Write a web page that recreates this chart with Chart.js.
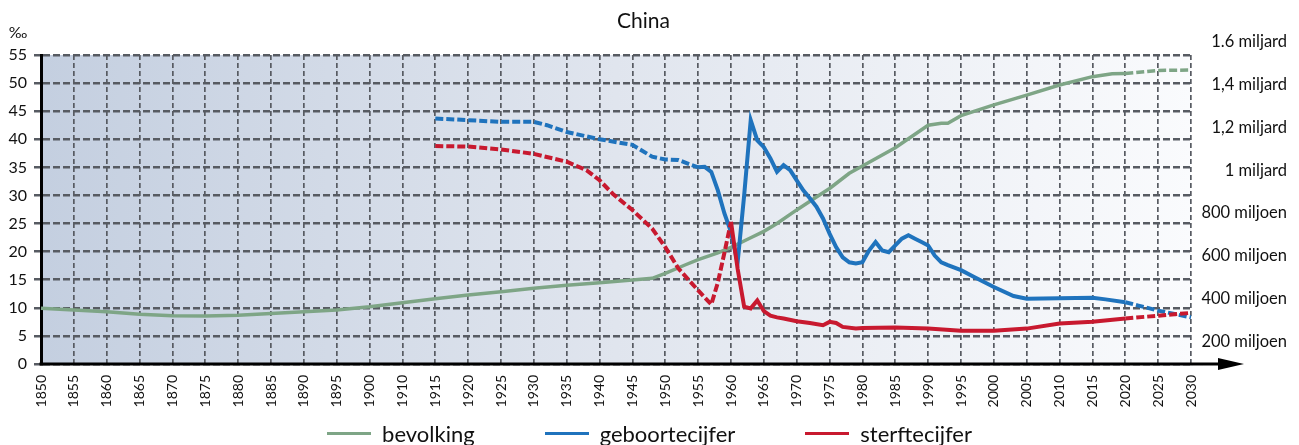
<html lang="nl">
<head>
<meta charset="UTF-8">
<script src="https://cdn.jsdelivr.net/npm/chart.js"></script>
<title>China</title>
<style>
  body { margin: 0; background: #fff; font-family: Lato, sans-serif; }
  #wrap { position: relative; width: 1299px; height: 445px; }
  #legend { position: absolute; left: 0; top: 420px; width: 1299px; height: 26px;
            display: flex; justify-content: center; gap: 70px; font-size: 22px; color: #111; }
  #legend div { display: flex; align-items: center; }
  #legend span.sw { display: inline-block; width: 44px; height: 3px; margin-right: 11px; }
</style>
</head>
<body>
<div id="wrap">
  <canvas id="myChart"></canvas>
  <div id="legend"></div>
</div>
<script>
// x categories: yearly, but 1900-1910 squeezed into one 5-step interval (as in the source)
const categories = [];
for (let y = 1850; y <= 1900; y++) categories.push(y);
for (let y = 1902; y < 1910; y += 2) categories.push(y);
for (let y = 1910; y <= 2030; y++) categories.push(y);

const tickYears = [1850,1855,1860,1865,1870,1875,1880,1885,1890,1895,1900,1910,1915,1920,1925,1930,1935,
  1940,1945,1950,1955,1960,1965,1970,1975,1980,1985,1990,1995,2000,2005,2010,2015,2020,2025,2030];

const popTickValues = [200,400,600,800,1000,1200,1400,1600];
const popTickLabels = ['200 miljoen','400 miljoen','600 miljoen','800 miljoen','1 miljard','1,2 miljard','1,4 miljard','1.6 miljard'];

// bevolking (miljoen)
const popYears = [1850,1855,1860,1865,1870,1875,1880,1885,1890,1895,1900,1910,1915,1920,1925,1930,1935,1940,
  1945,1948,1950,1953,1955,1958,1960,1963,1965,1967,1970,1973,1975,1978,1980,1985,1990,1992,1993,1995,
  2000,2005,2010,2015,2018,2020,2025,2030];
const popValues = [356,348,340,328,321,320,324,332,340,348,363,382,400,418,433,449,464,475,
  488,496,519,558,583,615,640,685,715,752,815,875,915,986,1020,1105,1210,1219,1219,1255,
  1305,1351,1398,1437,1450,1452,1466,1468];

// geboortecijfer (‰)
const birthYears = [1915,1920,1925,1930,1932,1935,1940,1945,1948,1950,1952,1955,1956,1957,1958,1959,1960,1961,
  1962,1963,1964,1965,1966,1967,1968,1969,1970,1971,1972,1973,1974,1975,1976,1977,1978,1979,1980,1981,
  1982,1983,1984,1985,1986,1987,1988,1989,1990,1991,1992,1993,1995,1997,2000,2003,2005,2010,2015,2017,
  2020,2022,2025,2030];
const birthValues = [43.7,43.4,43.1,43.1,42.5,41.3,40.0,39.0,36.9,36.4,36.3,35.0,35.1,34.2,30.9,26.8,23.5,18.0,
  30.0,43.4,39.8,38.6,36.6,34.2,35.4,34.5,32.7,30.9,29.5,28.0,25.9,23.2,20.8,19.0,18.1,17.9,18.1,20.2,
  21.7,20.2,19.9,21.1,22.3,22.9,22.3,21.7,21.1,19.3,18.1,17.6,16.7,15.5,13.7,12.1,11.6,11.7,11.8,11.5,
  11.0,10.4,9.5,8.3];

// sterftecijfer (‰)
const deathYears = [1915,1920,1925,1930,1935,1938,1940,1942,1945,1948,1950,1952,1955,1957,1958,1959,1960,1961,
  1962,1963,1964,1965,1966,1967,1968,1970,1972,1974,1975,1976,1977,1979,1980,1985,1990,1995,2000,2005,
  2010,2015,2020,2025,2030];
const deathValues = [38.8,38.7,38.2,37.4,36.0,34.5,32.7,30.3,27.4,24.1,20.8,17.0,13.1,10.6,14.5,19.8,25.3,17.0,
  10.2,9.9,11.3,9.4,8.6,8.3,8.1,7.6,7.3,6.9,7.5,7.3,6.6,6.3,6.4,6.5,6.3,5.9,5.9,6.3,
  7.2,7.5,8.1,8.6,9.1];

const gridColor = '#575b62';

function pts(years, values) {
  return years.map((y, i) => ({ x: y, y: values[i] }));
}
function dashed(until, from) {
  return ctx => {
    const a = categories[ctx.p0.parsed.x], b = categories[ctx.p1.parsed.x];
    if ((until && b <= until) || (from && a >= from)) return [8, 3];
    return undefined;
  };
}

const bgPlugin = {
  id: 'bg',
  beforeDraw(chart) {
    const { ctx, chartArea: a } = chart;
    const g = ctx.createLinearGradient(a.left, 0, a.right, 0);
    g.addColorStop(0, '#c4cfe0');
    g.addColorStop(0.5, '#e0e5ee');
    g.addColorStop(1, '#fafbfd');
    ctx.save();
    ctx.fillStyle = g;
    ctx.fillRect(a.left, a.top, a.right - a.left, a.bottom - a.top);
    ctx.restore();
  },
  afterDraw(chart) {
    const { ctx, chartArea: a } = chart;
    ctx.save();
    // x axis with arrow
    ctx.strokeStyle = '#000';
    ctx.lineWidth = 3;
    ctx.beginPath();
    ctx.moveTo(a.left - 1.5, a.bottom);
    ctx.lineTo(a.right + 30, a.bottom);
    ctx.stroke();
    ctx.fillStyle = '#000';
    ctx.beginPath();
    ctx.moveTo(a.right + 27, a.bottom - 6);
    ctx.lineTo(a.right + 53, a.bottom);
    ctx.lineTo(a.right + 27, a.bottom + 6);
    ctx.closePath();
    ctx.fill();
    // unit
    ctx.fillStyle = '#111';
    ctx.font = '16px Lato';
    ctx.textAlign = 'center';
    ctx.textBaseline = 'middle';
    ctx.fillText('‰', a.left - 23, a.top - 22);
    ctx.restore();
  }
};

Chart.defaults.font.family = 'Lato';
Chart.defaults.color = '#111';

const chart = new Chart(document.getElementById('myChart'), {
  type: 'line',
  data: {
    labels: categories,
    datasets: [
      { label: 'bevolking', data: pts(popYears, popValues), yAxisID: 'yPop', order: 2,
        borderColor: '#7ea586', backgroundColor: '#7ea586', borderWidth: 3.5,
        segment: { borderDash: dashed(null, 2020) } },
      { label: 'geboortecijfer', data: pts(birthYears, birthValues), yAxisID: 'y', order: 1,
        borderColor: '#1f73bd', backgroundColor: '#1f73bd', borderWidth: 4,
        segment: { borderDash: dashed(1955, 2020) } },
      { label: 'sterftecijfer', data: pts(deathYears, deathValues), yAxisID: 'y', order: 0,
        borderColor: '#c8192f', backgroundColor: '#c8192f', borderWidth: 4,
        segment: { borderDash: dashed(1960, 2020) } }
    ]
  },
  options: {
    responsive: true,
    maintainAspectRatio: false,
    animation: false,
    layout: { padding: { right: 12 } },
    elements: { point: { radius: 0 }, line: { tension: 0 } },
    plugins: {
      legend: { display: false },
      tooltip: { enabled: false },
      title: { display: true, text: 'China', font: { size: 21, weight: 'normal' }, color: '#111',
               padding: { top: 9, bottom: 20.8 } }
    },
    scales: {
      x: {
        type: 'category',
        offset: false,
        afterBuildTicks: s => { s.ticks = s.ticks.filter(t => tickYears.includes(categories[t.value])); },
        afterFit: s => { s.height = 81; },
        ticks: { autoSkip: false, maxRotation: 90, minRotation: 90, padding: 11, font: { size: 14 } },
        grid: { color: gridColor, lineWidth: 1.7, drawTicks: false },
        border: { display: false, dash: [5, 3] }
      },
      y: {
        position: 'left',
        min: 0, max: 55,
        afterFit: s => { s.width = 41; },
        ticks: { stepSize: 5, padding: 7, font: { size: 16 } },
        grid: { color: gridColor, lineWidth: 2.5, tickLength: 7, tickBorderDash: [7, 3] },
        border: { display: true, color: '#000', width: 3, dash: [7, 3] }
      },
      yPop: {
        position: 'right',
        min: 96, max: 1538,
        afterFit: s => { s.width = 96; },
        afterBuildTicks: s => { s.ticks = popTickValues.map(v => ({ value: v })); },
        ticks: { crossAlign: 'far', padding: 1, font: { size: 16.5 },
                 callback: (v, i) => popTickLabels[i] },
        grid: { display: false },
        border: { display: false }
      }
    }
  },
  plugins: [bgPlugin]
});

// legend from the datasets
const legend = document.getElementById('legend');
chart.data.datasets.forEach(ds => {
  const item = document.createElement('div');
  item.innerHTML = '<span class="sw" style="background:' + ds.borderColor + '"></span>' + ds.label;
  legend.appendChild(item);
});
</script>
</body>
</html>
